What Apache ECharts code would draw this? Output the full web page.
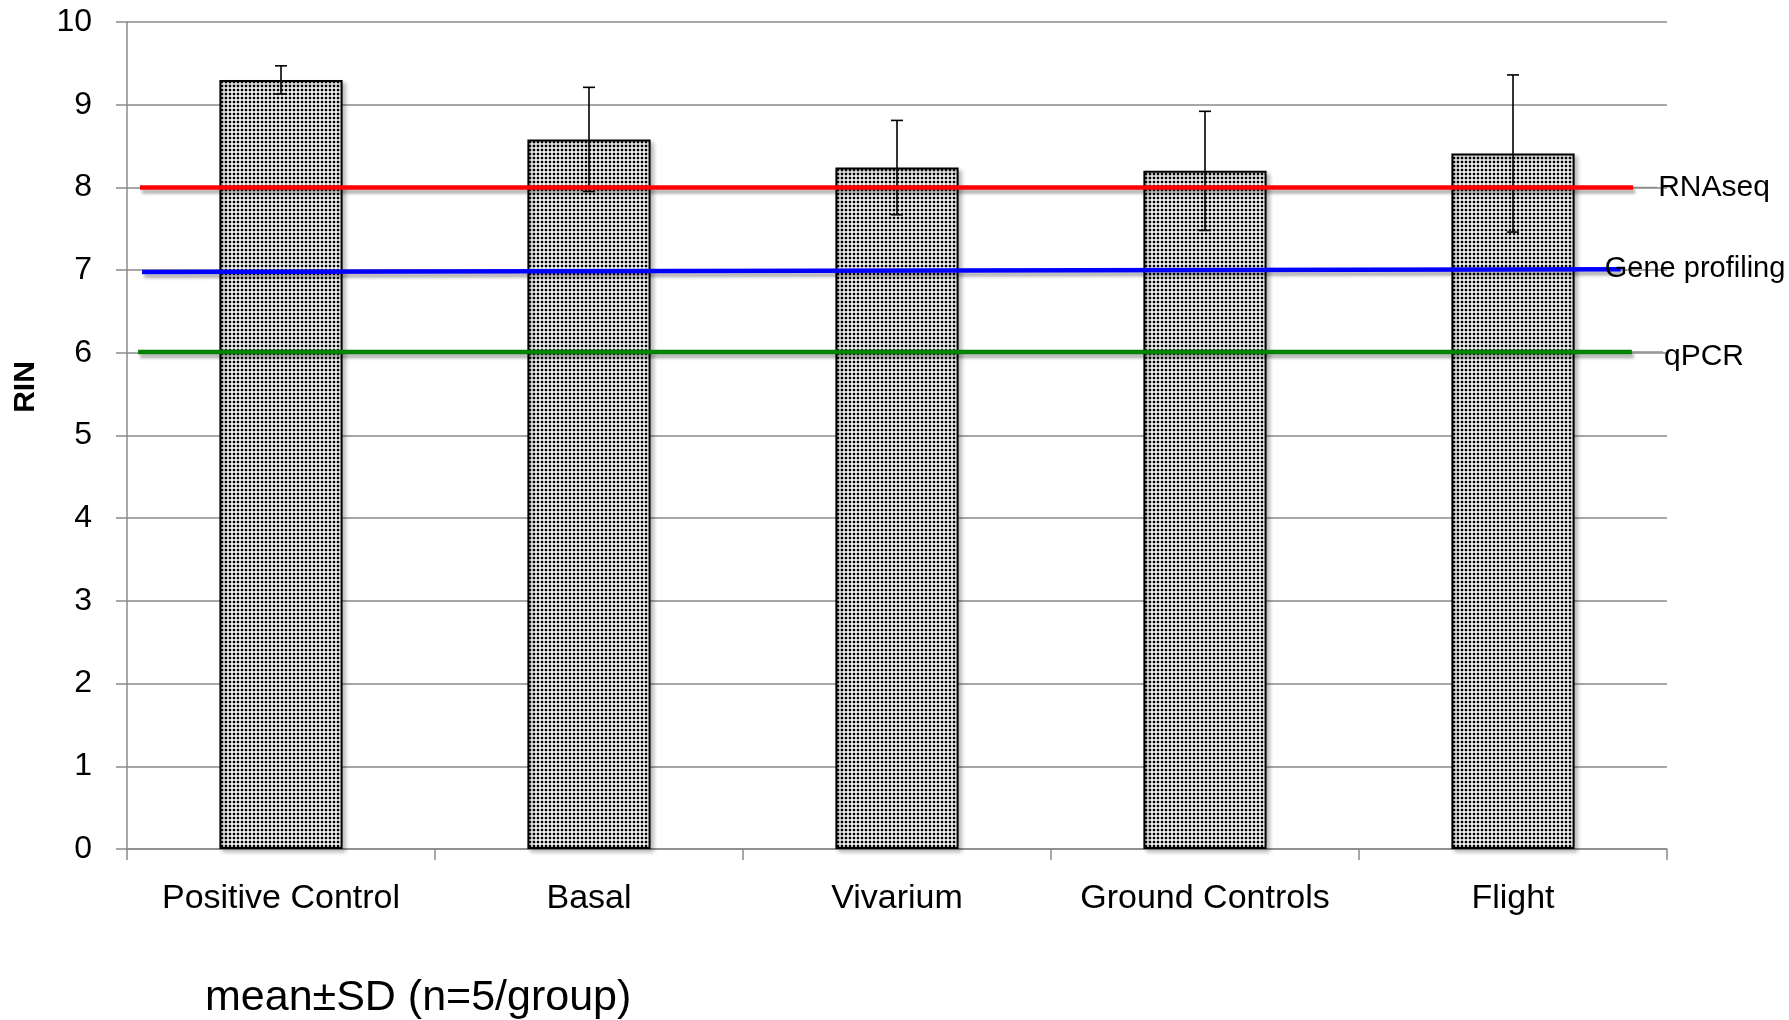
<!DOCTYPE html>
<html>
<head>
<meta charset="utf-8">
<script src="https://cdn.jsdelivr.net/npm/echarts@6/dist/echarts.min.js"></script>
<style>
html,body{margin:0;padding:0;background:#fff;}
#chart{width:1789px;height:1020px;}
</style>
</head>
<body>
<div id="chart"></div>
<script>
// ---- data ----
const categories = ['Positive Control', 'Basal', 'Vivarium', 'Ground Controls', 'Flight'];
const meanRIN = [9.30, 8.58, 8.24, 8.20, 8.41];
const sdRIN = [0.17, 0.63, 0.57, 0.72, 0.95];
const yTicks = [0, 1, 2, 3, 4, 5, 6, 7, 8, 9, 10];
const refNames = ['RNAseq', 'Gene profiling', 'qPCR'];
// threshold lines: [x start, x end] along a 0..5 category span, and RIN at start/end
const refXStart = [0.042, 0.049, 0.036];
const refXEnd = [4.89, 4.85, 4.886];
const refYStart = [8.0, 6.977, 6.01];
const refYEnd = [8.0, 7.01, 6.01];
const refLeaderEnd = [4.968, null, 4.987];
const refColors = ['#FF0000', '#0000FF', '#008000'];
const yAxisTitle = 'RIN';
const footnote = 'mean\u00B1SD (n=5/group)';

// ---- pattern for bars ----
const pat = document.createElement('canvas');
pat.width = 4; pat.height = 4;
const pc = pat.getContext('2d');
pc.fillStyle = '#ffffff'; pc.fillRect(0, 0, 4, 4);
pc.fillStyle = '#000000'; pc.fillRect(0.75, 0.75, 2.5, 2.5);

const FONT = "'Liberation Sans', Arial, sans-serif";
const chart = echarts.init(document.getElementById('chart'), null, {renderer: 'canvas'});

const errData = categories.map((c, i) => [i, meanRIN[i] - sdRIN[i], meanRIN[i] + sdRIN[i]]);

const series = [
  {
    type: 'bar',
    xAxisIndex: 0, yAxisIndex: 0,
    data: meanRIN,
    barWidth: '40%',
    z: 2,
    itemStyle: {
      color: {image: pat, repeat: 'repeat'},
      borderColor: '#000', borderWidth: 2,
      shadowColor: 'rgba(0,0,0,0.25)', shadowBlur: 4, shadowOffsetX: 3, shadowOffsetY: 3
    },
    emphasis: {disabled: true}
  },
  {
    type: 'custom',
    xAxisIndex: 0, yAxisIndex: 0,
    data: errData,
    z: 3,
    renderItem: function (params, api) {
      const x = api.value(0);
      const lo = api.coord([x, api.value(1)]);
      const hi = api.coord([x, api.value(2)]);
      const hw = 6;
      const st = {stroke: '#000', lineWidth: 1.6};
      return {type: 'group', children: [
        {type: 'line', shape: {x1: lo[0], y1: lo[1], x2: hi[0], y2: hi[1]}, style: st},
        {type: 'line', shape: {x1: hi[0] - hw, y1: hi[1], x2: hi[0] + hw, y2: hi[1]}, style: st},
        {type: 'line', shape: {x1: lo[0] - hw, y1: lo[1], x2: lo[0] + hw, y2: lo[1]}, style: st}
      ]};
    }
  }
];

refNames.forEach((name, i) => {
  const hasLeader = refLeaderEnd[i] !== null;
  const labelStyle = {
    show: true, formatter: name, color: '#000', fontFamily: FONT,
    fontSize: i === 1 ? 29 : 30, distance: 1
  };
  series.push({
    type: 'line',
    xAxisIndex: 1, yAxisIndex: 0,
    data: [[refXStart[i], refYStart[i]], [refXEnd[i], refYEnd[i]]],
    symbol: 'none',
    z: 5,
    silent: true,
    lineStyle: {
      color: refColors[i], width: 4.5, cap: 'butt',
      shadowColor: 'rgba(0,0,0,0.3)', shadowBlur: 3, shadowOffsetX: 2, shadowOffsetY: 4
    },
    endLabel: hasLeader ? {show: false} : Object.assign({}, labelStyle, {offset: [-17, 0]})
  });
  if (hasLeader) {
    series.push({
      type: 'line',
      xAxisIndex: 1, yAxisIndex: 0,
      data: [[refXEnd[i], refYEnd[i]], [refLeaderEnd[i], refYEnd[i]]],
      symbol: 'none',
      z: 4,
      silent: true,
      lineStyle: {color: '#8c8c8c', width: 1.3},
      endLabel: Object.assign({}, labelStyle, i === 2 ? {offset: [0, 5]} : {})
    });
  }
});

chart.setOption({
  backgroundColor: '#ffffff',
  animation: false,
  grid: {left: 127, right: 122, top: 22, bottom: 171, containLabel: false},
  xAxis: [
    {
      type: 'category',
      data: categories,
      boundaryGap: true,
      axisLine: {show: true, lineStyle: {color: '#8a8a8a', width: 1.5}},
      axisTick: {show: true, length: 11, alignWithLabel: false, lineStyle: {color: '#8a8a8a', width: 1.5}},
      axisLabel: {color: '#000', fontFamily: FONT, fontSize: 34, margin: 33, interval: 0},
      splitLine: {show: false}
    },
    {
      type: 'value', min: 0, max: 5, show: false
    }
  ],
  yAxis: [{
    type: 'value',
    min: yTicks[0], max: yTicks[yTicks.length - 1], interval: 1,
    axisLine: {show: true, lineStyle: {color: '#8a8a8a', width: 1.5}},
    axisTick: {show: true, length: 11, inside: false, lineStyle: {color: '#8a8a8a', width: 1.5}},
    axisLabel: {color: '#000', fontFamily: FONT, fontSize: 32, margin: 35},
    splitLine: {show: true, lineStyle: {color: '#8a8a8a', width: 1.5}}
  }],
  graphic: [
    {
      type: 'text', x: 26, y: 387, rotation: Math.PI / 2,
      style: {text: yAxisTitle, fontFamily: FONT, fontSize: 30, fontWeight: 'bold', fill: '#000',
        align: 'center', verticalAlign: 'middle'}
    },
    {
      type: 'text', x: 205, y: 998,
      style: {text: footnote, fontFamily: FONT, fontSize: 43, fill: '#000',
        align: 'left', verticalAlign: 'middle'}
    }
  ],
  series: series
});
</script>
</body>
</html>
